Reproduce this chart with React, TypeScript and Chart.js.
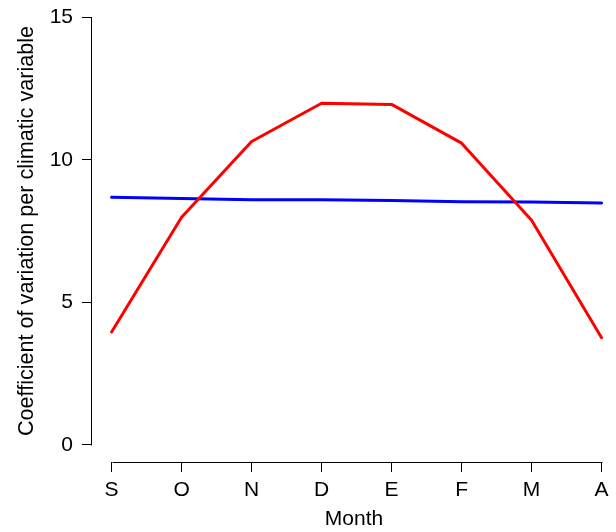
import React, { useEffect, useRef } from "react";
import { Chart, registerables } from "chart.js";

Chart.register(...registerables);

const months = ["S", "O", "N", "D", "E", "F", "M", "A"];
const redSeries = [3.96, 7.98, 10.64, 11.98, 11.94, 10.58, 7.88, 3.76];
const blueSeries = [8.68, 8.64, 8.6, 8.6, 8.57, 8.53, 8.52, 8.48];
const yTicks = [0, 5, 10, 15];
const xTitle = "Month";
const yTitle = "Coefficient of variation per climatic variable";

const FONT = "'Liberation Sans', Arial, Helvetica, sans-serif";
const FS = 21;

const rAxesPlugin = {
  id: "rAxes",
  afterDraw(chart: any) {
    const { ctx, chartArea, scales } = chart;
    const xs = scales.x;
    const ys = scales.y;
    ctx.save();
    ctx.strokeStyle = "#000";
    ctx.lineWidth = 1;
    ctx.lineCap = "butt";
    const ax = Math.round(chartArea.left) - 0.5;
    const ay = Math.round(chartArea.bottom) + 0.5;
    ctx.beginPath();
    ctx.moveTo(ax, Math.round(ys.getPixelForValue(yTicks[yTicks.length - 1])) + 0.5);
    ctx.lineTo(ax, Math.round(ys.getPixelForValue(yTicks[0])) + 0.5);
    ctx.stroke();
    ctx.beginPath();
    ctx.moveTo(Math.round(xs.getPixelForValue(0)) + 0.5, ay);
    ctx.lineTo(Math.round(xs.getPixelForValue(months.length - 1)) + 0.5, ay);
    ctx.stroke();
    ctx.restore();
  },
};

export default function App() {
  const ref = useRef<HTMLCanvasElement>(null);
  useEffect(() => {
    document.body.style.margin = "0";
    const canvas = ref.current!;
    const chart = new Chart(canvas, {
      type: "line",
      data: {
        datasets: [
          {
            data: months.map((_, i) => ({ x: i, y: redSeries[i] })),
            borderColor: "#FF0000",
            borderWidth: 3,
            pointRadius: 0,
            tension: 0,
            borderCapStyle: "round",
            borderJoinStyle: "round",
          },
          {
            data: months.map((_, i) => ({ x: i, y: blueSeries[i] })),
            borderColor: "#0000FF",
            borderWidth: 3,
            pointRadius: 0,
            tension: 0,
            borderCapStyle: "round",
            borderJoinStyle: "round",
          },
        ],
      },
      options: {
        animation: false,
        responsive: false,
        maintainAspectRatio: false,
        layout: { padding: 0 },
        plugins: {
          legend: { display: false },
          tooltip: { enabled: false },
        },
        scales: {
          x: {
            type: "linear",
            min: -0.28,
            max: 7.206,
            afterBuildTicks: (scale: any) => {
              scale.ticks = months.map((_, i) => ({ value: i }));
            },
            afterFit: (scale: any) => {
              scale.height = 70;
              scale.paddingLeft = 0;
              scale.paddingRight = 0;
            },
            grid: {
              display: true,
              drawOnChartArea: false,
              drawTicks: true,
              tickLength: 10,
              color: "#000",
              lineWidth: 1,
            },
            border: { display: false },
            ticks: {
              autoSkip: false,
              maxRotation: 0,
              padding: 6,
              color: "#000",
              font: { family: FONT, size: FS },
              callback: (v: any) => months[v as number] ?? "",
            },
            title: {
              display: true,
              text: xTitle,
              color: "#000",
              font: { family: FONT, size: FS },
              padding: { top: 0, bottom: 0 },
            },
          },
          y: {
            type: "linear",
            min: -0.6,
            max: 15.6,
            afterBuildTicks: (scale: any) => {
              scale.ticks = yTicks.map((v) => ({ value: v }));
            },
            afterFit: (scale: any) => {
              scale.width = 92;
              scale.paddingTop = 0;
              scale.paddingBottom = 0;
            },
            grid: {
              display: true,
              drawOnChartArea: false,
              drawTicks: true,
              tickLength: 10,
              color: "#000",
              lineWidth: 1,
            },
            border: { display: false },
            ticks: {
              padding: 9,
              color: "#000",
              font: { family: FONT, size: FS },
            },
            title: {
              display: true,
              text: yTitle,
              color: "#000",
              font: { family: FONT, size: 21.6 },
              padding: { top: 14, bottom: 0 },
            },
          },
        },
      },
      plugins: [rAxesPlugin],
    } as any);
    return () => chart.destroy();
  }, []);
  return <canvas ref={ref} width={616} height={532} style={{ display: "block", width: 616, height: 532 }} />;
}
